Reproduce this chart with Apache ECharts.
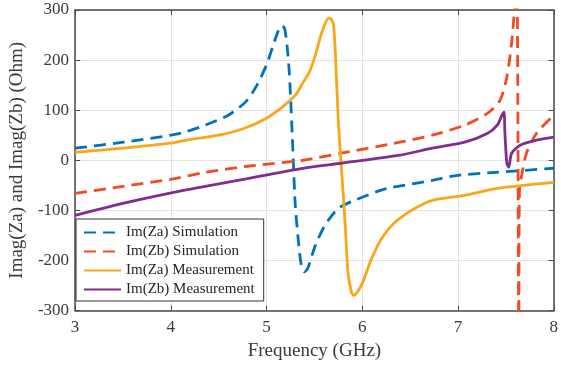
<!DOCTYPE html>
<html>
<head>
<meta charset="utf-8">
<script src="https://cdn.jsdelivr.net/npm/echarts@6/dist/echarts.min.js"></script>
<style>
html,body{margin:0;padding:0;background:#fff;}
#chart{width:561px;height:369px;}
</style>
</head>
<body>
<div id="chart"></div>
<script>
// ---- Data ----
const seriesNames = ['Im(Za) Simulation', 'Im(Zb) Simulation', 'Im(Za) Measurement', 'Im(Zb) Measurement'];
const xTicks = [3, 4, 5, 6, 7, 8];
const yTicks = [-300, -200, -100, 0, 100, 200, 300];

const zaSimFreq = [3, 3.5, 4, 4.16, 4.36, 4.6, 4.785, 4.9, 5.005, 5.07, 5.12, 5.165, 5.19, 5.215, 5.236, 5.25, 5.27, 5.28, 5.30, 5.33, 5.36, 5.395, 5.43, 5.51, 5.61, 5.75, 5.92, 6.19, 6.32, 6.73, 7.0, 7.41, 8.0];
const zaSimVal  = [24, 36, 50, 57, 70, 90, 117, 150, 193, 230, 257, 269, 262, 228, 180, 130, 44, -3, -90, -156, -206, -223, -216, -170, -130, -96, -80, -60, -54, -40, -30, -24, -16];

const zbSimFreq = [3, 3.5, 4, 4.36, 4.8, 5.38, 5.78, 6.39, 6.73, 7.07, 7.31, 7.44, 7.51, 7.56, 7.59, 7.615, 7.635, 7.642, 7.665, 7.715, 7.82, 8.0];
const zbSimVal  = [-66, -52, -38, -24, -12, 0, 14, 36, 50, 70, 94, 120, 166, 234, 300, 350, -350, -60, -30, 14, 54, 90];

const zaMeasFreq = [3, 3.5, 4, 4.16, 4.5, 4.77, 5.0, 5.17, 5.31, 5.38, 5.45, 5.51, 5.58, 5.65, 5.675, 5.70, 5.72, 5.75, 5.785, 5.82, 5.85, 5.886, 5.91, 5.99, 6.09, 6.19, 6.29, 6.39, 6.57, 6.73, 7.07, 7.41, 8.0];
const zaMeasVal  = [16, 24, 34, 40, 50, 64, 84, 107, 132, 155, 177, 210, 257, 284, 282, 270, 210, 77, -23, -123, -223, -263, -270, -250, -200, -160, -134, -116, -94, -80, -70, -56, -44];

const zbMeasFreq = [3, 3.5, 4.03, 4.36, 4.7, 5.38, 5.78, 6.39, 6.73, 7.07, 7.31, 7.41, 7.46, 7.48, 7.49, 7.51, 7.53, 7.56, 7.65, 7.82, 8.0];
const zbMeasVal  = [-110, -86, -64, -52, -40, -16, -6, 10, 24, 36, 54, 70, 90, 96, 54, -6, -14, 14, 30, 40, 46];

function pairs(xs, ys) { return xs.map((x, i) => [x, ys[i]]); }

const FONT = "'Liberation Serif', 'Times New Roman', serif";
const AX = '#4a4a4a';
const colors = ['#0072BD', '#F24A22', '#F9A61A', '#7E2F8E'];

const chart = echarts.init(document.getElementById('chart'), null, {renderer: 'canvas'});

const commonX = {
  type: 'value', min: xTicks[0], max: xTicks[xTicks.length - 1], interval: 1,
  axisLine: {show: true, onZero: false, lineStyle: {color: AX, width: 1.5}},
  axisTick: {show: true, inside: true, length: 5, lineStyle: {color: AX, width: 1}},
};
const commonY = {
  type: 'value', min: yTicks[0], max: yTicks[yTicks.length - 1], interval: 100,
  axisLine: {show: true, onZero: false, lineStyle: {color: AX, width: 1.5}},
  axisTick: {show: true, inside: true, length: 5, lineStyle: {color: AX, width: 1}},
};

const data = [pairs(zaSimFreq, zaSimVal), pairs(zbSimFreq, zbSimVal), pairs(zaMeasFreq, zaMeasVal), pairs(zbMeasFreq, zbMeasVal)];
const dashed = [true, true, false, false];

chart.setOption({
  animation: false,
  backgroundColor: '#fff',
  color: colors,
  grid: {left: 66, right: 3, top: 10, bottom: 58.5, containLabel: false},
  xAxis: [
    Object.assign({}, commonX, {
      position: 'bottom',
      name: 'Frequency (GHz)', nameLocation: 'middle', nameGap: 31,
      nameTextStyle: {fontFamily: FONT, fontSize: 19, color: '#3a3a3a'},
      axisLabel: {fontFamily: FONT, fontSize: 17, color: '#3a3a3a', margin: 9},
      splitLine: {show: true, lineStyle: {color: '#e3e3e3', width: 1}}
    }),
    Object.assign({}, commonX, {
      position: 'top', axisLabel: {show: false}, splitLine: {show: false}
    })
  ],
  yAxis: [
    Object.assign({}, commonY, {
      position: 'left',
      name: 'Imag(Za) and Imag(Zb) (Ohm)', nameLocation: 'middle', nameGap: 40, nameRotate: 90,
      nameTextStyle: {fontFamily: FONT, fontSize: 19, color: '#3a3a3a'},
      axisLabel: {fontFamily: FONT, fontSize: 17, color: '#3a3a3a', margin: 6},
      splitLine: {show: true, lineStyle: {color: '#e3e3e3', width: 1}}
    }),
    Object.assign({}, commonY, {
      position: 'right', axisLabel: {show: false}, splitLine: {show: false}
    })
  ],
  legend: {
    left: 76, top: 219, orient: 'vertical',
    data: seriesNames,
    backgroundColor: '#fff', borderColor: '#333', borderWidth: 1, borderRadius: 0,
    padding: [6, 9, 4, 7],
    itemWidth: 37, itemHeight: 14, itemGap: 4,
    itemStyle: {opacity: 0, borderWidth: 0},
    textStyle: {fontFamily: FONT, fontSize: 15, color: '#262626'}
  },
  series: seriesNames.map((name, i) => ({
    name: name, type: 'line', data: data[i], xAxisIndex: 0, yAxisIndex: 0,
    symbol: 'none', showSymbol: false, smooth: 0.25, clip: true,
    lineStyle: {width: 2.8, color: colors[i], type: dashed[i] ? [12, 7] : 'solid'},
    itemStyle: {color: colors[i]},
    z: [2, 3, 4, 5][i]
  }))
});
</script>
</body>
</html>
